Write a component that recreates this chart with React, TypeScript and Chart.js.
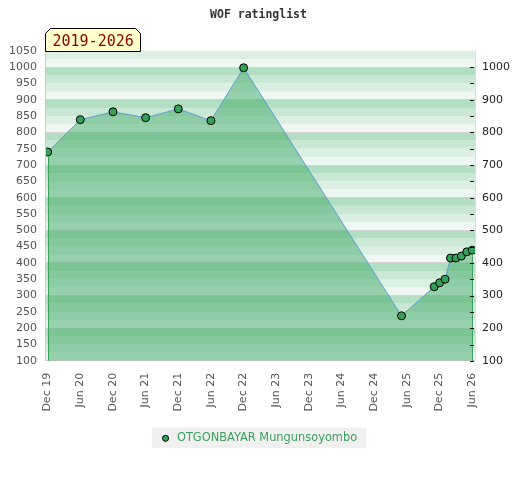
import React, { useEffect, useRef } from 'react';
import { Chart, registerables } from 'chart.js';

Chart.register(...registerables);

const chartTitle = 'WOF ratinglist';
const periodLabel = '2019-2026';
const seriesName = 'OTGONBAYAR Mungunsoyombo';
const axisStart = '2019-12';
const ratingDates = [
  '2019-12', '2020-06', '2020-12', '2021-06', '2021-12', '2022-06', '2022-12',
  '2025-05', '2025-11', '2025-12', '2026-01', '2026-02', '2026-03', '2026-04', '2026-05', '2026-06',
];
const ratings = [740, 839, 863, 845, 872, 836, 998, 238, 327, 339, 350, 415, 415, 421, 434, 439];
const xTickLabels = [
  'Dec 19', 'Jun 20', 'Dec 20', 'Jun 21', 'Dec 21', 'Jun 22', 'Dec 22',
  'Jun 23', 'Dec 23', 'Jun 24', 'Dec 24', 'Jun 25', 'Dec 25', 'Jun 26',
];
const yMin = 100;
const yMax = 1050;
const rightMax = 1000;

function monthIndex(s: string): number {
  const [y, m] = s.split('-').map(Number);
  const [y0, m0] = axisStart.split('-').map(Number);
  return (y - y0) * 12 + (m - m0);
}

const stripeColors = ['#b2dec1', '#cae7d4', '#dcefe3', '#eff7f2'];

const decorPlugin = {
  id: 'decor',
  beforeDraw(chart: any) {
    const { ctx, chartArea } = chart;
    const y = chart.scales.y;
    ctx.save();
    for (let v = yMin; v < yMax + 100; v += 25) {
      const top = y.getPixelForValue(v + 25);
      const bot = y.getPixelForValue(v);
      const t = Math.max(top, chartArea.top);
      const b = Math.min(bot, chartArea.bottom);
      if (b <= t) continue;
      const idx = 3 - (((v % 100) + 100) % 100) / 25;
      ctx.fillStyle = stripeColors[idx];
      ctx.fillRect(chartArea.left, t, chartArea.right - chartArea.left, b - t);
    }
    const lg = chart.legend;
    if (lg && lg.legendHitBoxes && lg.legendHitBoxes.length) {
      const h = lg.legendHitBoxes[0];
      ctx.fillStyle = '#f0f0f0';
      ctx.fillRect(h.left - 8, h.top - 5, h.width + 17, h.height + 9);
    }
    ctx.restore();
  },
  afterDatasetsDraw(chart: any) {
    const { ctx, chartArea } = chart;
    const meta = chart.getDatasetMeta(0);
    const pts = [meta.data[0], meta.data[meta.data.length - 1]];
    ctx.save();
    ctx.strokeStyle = '#3aa35c';
    ctx.lineWidth = 1;
    pts.forEach((p: any) => {
      const x = Math.round(p.x) + 0.5;
      ctx.beginPath();
      ctx.moveTo(x, p.y + 4.5);
      ctx.lineTo(x, chartArea.bottom);
      ctx.stroke();
    });
    ctx.restore();
  },
  afterDraw(chart: any) {
    const { ctx, chartArea } = chart;
    const y2 = chart.scales.y2;
    ctx.save();
    ctx.strokeStyle = '#000';
    ctx.lineWidth = 1;
    y2.ticks.forEach((t: any) => {
      const py = Math.round(y2.getPixelForValue(t.value)) + 0.5;
      ctx.beginPath();
      ctx.moveTo(chartArea.right - 5, py);
      ctx.lineTo(chartArea.right - 1, py);
      ctx.stroke();
    });
    const l = Math.round(chartArea.left) - 0.5;
    const r = l + 95;
    const b = Math.round(chartArea.top) + 0.5;
    const t = b - 23;
    const c = 5;
    ctx.beginPath();
    ctx.moveTo(l, b);
    ctx.lineTo(l, t + c);
    ctx.lineTo(l + c, t);
    ctx.lineTo(r - c, t);
    ctx.lineTo(r, t + c);
    ctx.lineTo(r, b);
    ctx.closePath();
    ctx.fillStyle = '#ffffcc';
    ctx.fill();
    ctx.strokeStyle = '#000';
    ctx.stroke();
    ctx.fillStyle = '#8b0000';
    ctx.font = '15px "DejaVu Sans Mono"';
    ctx.textBaseline = 'alphabetic';
    ctx.textAlign = 'left';
    ctx.fillText(periodLabel, l + 7, b - 6);
    ctx.restore();
  },
};

export default function App() {
  const ref = useRef<HTMLCanvasElement>(null);
  useEffect(() => {
    document.body.style.margin = '0';
    const pointColor = '#35a05a';
    const chart = new Chart(ref.current as HTMLCanvasElement, {
      type: 'line',
      data: {
        datasets: [
          {
            label: seriesName,
            data: ratingDates.map((d, i) => ({ x: monthIndex(d), y: ratings[i] })),
            borderColor: '#5a9fd6',
            borderWidth: 1,
            backgroundColor: 'rgba(70,173,107,0.52)',
            fill: 'start',
            tension: 0,
            pointRadius: 4,
            pointBackgroundColor: pointColor,
            pointBorderColor: '#000',
            pointBorderWidth: 1,
          },
        ],
      },
      options: {
        animation: false,
        responsive: true,
        maintainAspectRatio: false,
        layout: { padding: { left: 0, right: 3, top: 0, bottom: 26 } },
        plugins: {
          title: {
            display: true,
            text: chartTitle,
            color: '#333',
            font: { family: '"DejaVu Sans Mono"', weight: 'bold', size: 11.5 },
            padding: { top: 8, bottom: 29 },
          },
          legend: {
            position: 'bottom',
            labels: {
              color: '#3a9f5c',
              font: { family: '"DejaVu Sans"', size: 11.4 },
              usePointStyle: true,
              boxWidth: 11.4,
              boxHeight: 4.3,
              padding: 9,
              generateLabels: () => [
                {
                  text: seriesName,
                  fillStyle: pointColor,
                  strokeStyle: '#000',
                  lineWidth: 1,
                  pointStyle: 'circle',
                  datasetIndex: 0,
                  hidden: false,
                  fontColor: '#3a9f5c',
                } as any,
              ],
            },
          },
          tooltip: { enabled: false },
        },
        scales: {
          x: {
            type: 'linear',
            min: -0.3,
            max: 78.5,
            afterBuildTicks: (axis: any) => {
              axis.ticks = xTickLabels.map((_, i) => ({ value: i * 6 }));
            },
            ticks: {
              autoSkip: false,
              minRotation: 90,
              maxRotation: 90,
              color: '#555',
              font: { family: '"DejaVu Sans"', size: 11 },
              padding: 12,
              callback: (v: any) => xTickLabels[Math.round(Number(v) / 6)] ?? '',
            },
            grid: { display: false, drawTicks: false },
            border: { color: '#cccccc' },
          },
          y: {
            position: 'left',
            min: yMin,
            max: yMax,
            ticks: {
              stepSize: 50,
              color: '#555',
              font: { family: '"DejaVu Sans"', size: 11 },
              padding: 9,
              autoSkip: false,
              callback: (v: any) => String(v),
            },
            grid: {
              drawTicks: false,
              color: (c: any) => (c.tick && c.tick.value % 100 === 0 ? '#d4d4d4' : 'rgba(0,0,0,0)'),
            },
            border: { color: '#cccccc' },
          },
          y2: {
            position: 'right',
            min: yMin,
            max: yMax,
            afterBuildTicks: (axis: any) => {
              axis.ticks = axis.ticks.filter((t: any) => t.value <= rightMax);
            },
            ticks: {
              stepSize: 50,
              color: '#222',
              font: { family: '"DejaVu Sans"', size: 11 },
              padding: 7,
              autoSkip: false,
              callback: (v: any) => (Number(v) % 100 === 0 ? String(v) : ''),
            },
            grid: { drawOnChartArea: false, drawTicks: false },
            border: { color: '#dddddd' },
          },
        },
      } as any,
      plugins: [decorPlugin],
    });
    return () => chart.destroy();
  }, []);
  return (
    <div style={{ width: 520, height: 480, position: 'relative' }}>
      <canvas ref={ref} />
    </div>
  );
}
